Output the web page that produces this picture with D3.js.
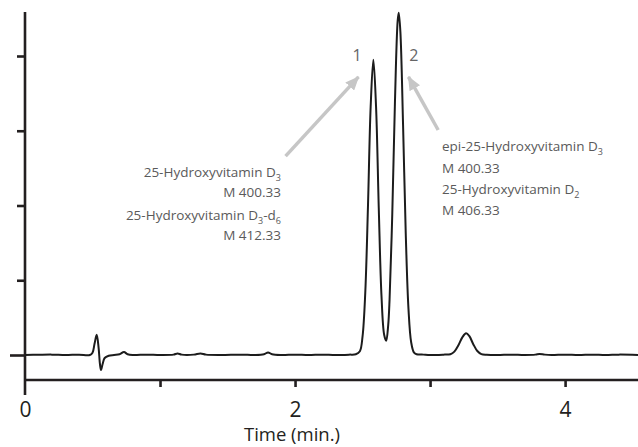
<!DOCTYPE html>
<html>
<head>
<meta charset="utf-8">
<script src="https://cdn.jsdelivr.net/npm/d3@7"></script>
<style>
  body { margin: 0; background: #fff; }
  svg { display: block; }
  text { font-family: "Open Sans", "Noto Sans", sans-serif; }
</style>
</head>
<body>
<svg id="chart" width="638" height="447"></svg>
<script>
// chromatogram: time (min) and detector signal (tick units)
const times = [
  0, 0.1, 0.2, 0.3, 0.4, 0.48, 0.5, 0.515, 0.531, 0.545, 0.555, 0.563, 0.575, 0.59, 0.62, 0.66,
  0.7, 0.733, 0.76, 0.8, 0.9, 1.0, 1.1, 1.13, 1.16, 1.25, 1.3, 1.34, 1.45, 1.6, 1.7, 1.77, 1.8,
  1.83, 1.9, 2.0, 2.1, 2.2, 2.3, 2.4, 2.45, 2.48, 2.5, 2.52, 2.54, 2.56, 2.58, 2.6, 2.62, 2.64,
  2.66, 2.675, 2.69, 2.7, 2.72, 2.74, 2.76, 2.768, 2.78, 2.8, 2.82, 2.84, 2.86, 2.88, 2.9, 2.95,
  3.0, 3.1, 3.15, 3.18, 3.21, 3.24, 3.267, 3.29, 3.32, 3.35, 3.38, 3.42, 3.5, 3.6, 3.7, 3.78,
  3.81, 3.85, 3.9, 4.0, 4.1, 4.2, 4.3, 4.4, 4.54
];
const signal = [
  0, 0.003, 0.005, 0, 0.005, 0, 0.03, 0.15, 0.27, 0.1, -0.12, -0.2, -0.12, -0.04, -0.01, 0,
  0.01, 0.04, 0.01, 0, 0.005, 0, 0.005, 0.02, 0.005, 0.005, 0.02, 0.005, 0, 0.005, 0, 0.01, 0.035,
  0.01, 0, 0.005, 0, 0.005, 0, 0.005, 0.01, 0.05, 0.25, 0.83, 1.98, 3.32, 3.95, 3.32, 1.97, 0.8,
  0.27, 0.19, 0.4, 0.74, 1.88, 3.39, 4.47, 4.58, 4.33, 3.08, 1.62, 0.62, 0.17, 0.036, 0.01, 0.005,
  0, 0.005, 0.01, 0.045, 0.13, 0.24, 0.29, 0.255, 0.145, 0.053, 0.012, 0.003, 0, 0.005, 0, 0.005,
  0.015, 0.005, 0, 0.005, 0, 0.005, 0, 0.005, 0
];

const yTicks = [0, 1, 2, 3, 4];
const xTicks = [0, 1, 2, 3, 4];
const xLabels = [0, 2, 4];

// peak annotations
const peakNames = ["1", "2"];
const peakLabelAt = [[2.46, 3.93], [2.88, 3.93]];
const arrowFrom = [[1.93, 2.66], [3.06, 3.01]];
const arrowTo = [[2.47, 3.72], [2.84, 3.72]];
const leftNotes = [
  [["25-Hydroxyvitamin D", ""], ["3", "sub"]],
  [["M 400.33", ""]],
  [["25-Hydroxyvitamin D", ""], ["3", "sub"], ["-d", ""], ["6", "sub"]],
  [["M 412.33", ""]]
];
const rightNotes = [
  [["epi-25-Hydroxyvitamin D", ""], ["3", "sub"]],
  [["M 400.33", ""]],
  [["25-Hydroxyvitamin D", ""], ["2", "sub"]],
  [["M 406.33", ""]]
];

const svg = d3.select("#chart");
const x = d3.scaleLinear().domain([0, 4.54]).range([25, 638]);
const y = d3.scaleLinear().domain([0, 4]).range([355, 56]);
const axisColor = "#231f20";

// y axis
svg.append("line")
  .attr("x1", x(0)).attr("x2", x(0))
  .attr("y1", y(4.59)).attr("y2", 395)
  .attr("stroke", axisColor).attr("stroke-width", 2.6);
const gy = svg.append("g")
  .attr("transform", `translate(${x(0)},0)`)
  .call(d3.axisLeft(y).tickValues(yTicks).tickSize(8).tickFormat(""));
gy.select(".domain").remove();
gy.selectAll(".tick line").attr("stroke", axisColor).attr("stroke-width", 2.6)
  .attr("x2", (d) => (d === 0 ? -15 : -8));

// x axis
svg.append("line")
  .attr("x1", x(0)).attr("x2", 638)
  .attr("y1", 380).attr("y2", 380)
  .attr("stroke", axisColor).attr("stroke-width", 2.6);
const gx = svg.append("g")
  .attr("transform", "translate(0,380)")
  .call(d3.axisBottom(x).tickValues(xTicks).tickSize(7)
    .tickFormat((d) => (xLabels.includes(d) ? d : "")));
gx.select(".domain").remove();
gx.selectAll(".tick line").attr("stroke", axisColor).attr("stroke-width", 2.6)
  .attr("display", (d) => (d === 0 ? "none" : null));
gx.selectAll(".tick text")
  .attr("y", 0).attr("dy", 0)
  .attr("transform", "translate(0,37)")
  .attr("font-size", 21).attr("fill", "#231f20")
  .style("font-family", '"Open Sans", "Noto Sans", sans-serif');

svg.append("text")
  .attr("x", 292).attr("y", 441)
  .attr("text-anchor", "middle")
  .attr("font-size", 18.5).attr("fill", "#231f20")
  .text("Time (min.)");

// chromatogram trace
const pts = times.map((t, i) => [t, signal[i]]);
svg.append("path")
  .datum(pts)
  .attr("fill", "none")
  .attr("stroke", "#1c1c1c")
  .attr("stroke-width", 2)
  .attr("stroke-linejoin", "round")
  .attr("d", d3.line().x((d) => x(d[0])).y((d) => y(d[1])).curve(d3.curveCatmullRom.alpha(0.5)));

// arrows
svg.append("defs").append("marker")
  .attr("id", "head")
  .attr("markerUnits", "userSpaceOnUse")
  .attr("viewBox", "0 0 14 12")
  .attr("refX", 13).attr("refY", 6)
  .attr("markerWidth", 14).attr("markerHeight", 12)
  .attr("orient", "auto")
  .append("path").attr("d", "M0,0 L14,6 L0,12 Z").attr("fill", "#c6c6c6");

arrowFrom.forEach((f, i) => {
  svg.append("line")
    .attr("x1", x(f[0])).attr("y1", y(f[1]))
    .attr("x2", x(arrowTo[i][0])).attr("y2", y(arrowTo[i][1]))
    .attr("stroke", "#c6c6c6").attr("stroke-width", 3.5)
    .attr("marker-end", "url(#head)");
});

peakNames.forEach((n, i) => {
  svg.append("text")
    .attr("x", x(peakLabelAt[i][0])).attr("y", y(peakLabelAt[i][1]))
    .attr("text-anchor", "middle")
    .attr("font-size", 16).attr("fill", "#666")
    .text(n);
});

function note(lines, xPos, baselines, anchor) {
  lines.forEach((parts, i) => {
    const t = svg.append("text")
      .attr("x", xPos).attr("y", baselines[i])
      .attr("text-anchor", anchor)
      .attr("font-size", 13.5).attr("fill", "#5a5a5a");
    let shifted = false;
    parts.forEach(([s, kind]) => {
      const span = t.append("tspan").text(s);
      if (kind === "sub") {
        span.attr("font-size", 9).attr("dy", shifted ? 0 : 3.5);
        shifted = true;
      } else {
        if (shifted) span.attr("dy", -3.5);
        shifted = false;
      }
    });
  });
}
note(leftNotes, 281, [177, 197, 220, 240], "end");
note(rightNotes, 442, [151, 173, 194, 215], "start");
</script>
</body>
</html>
